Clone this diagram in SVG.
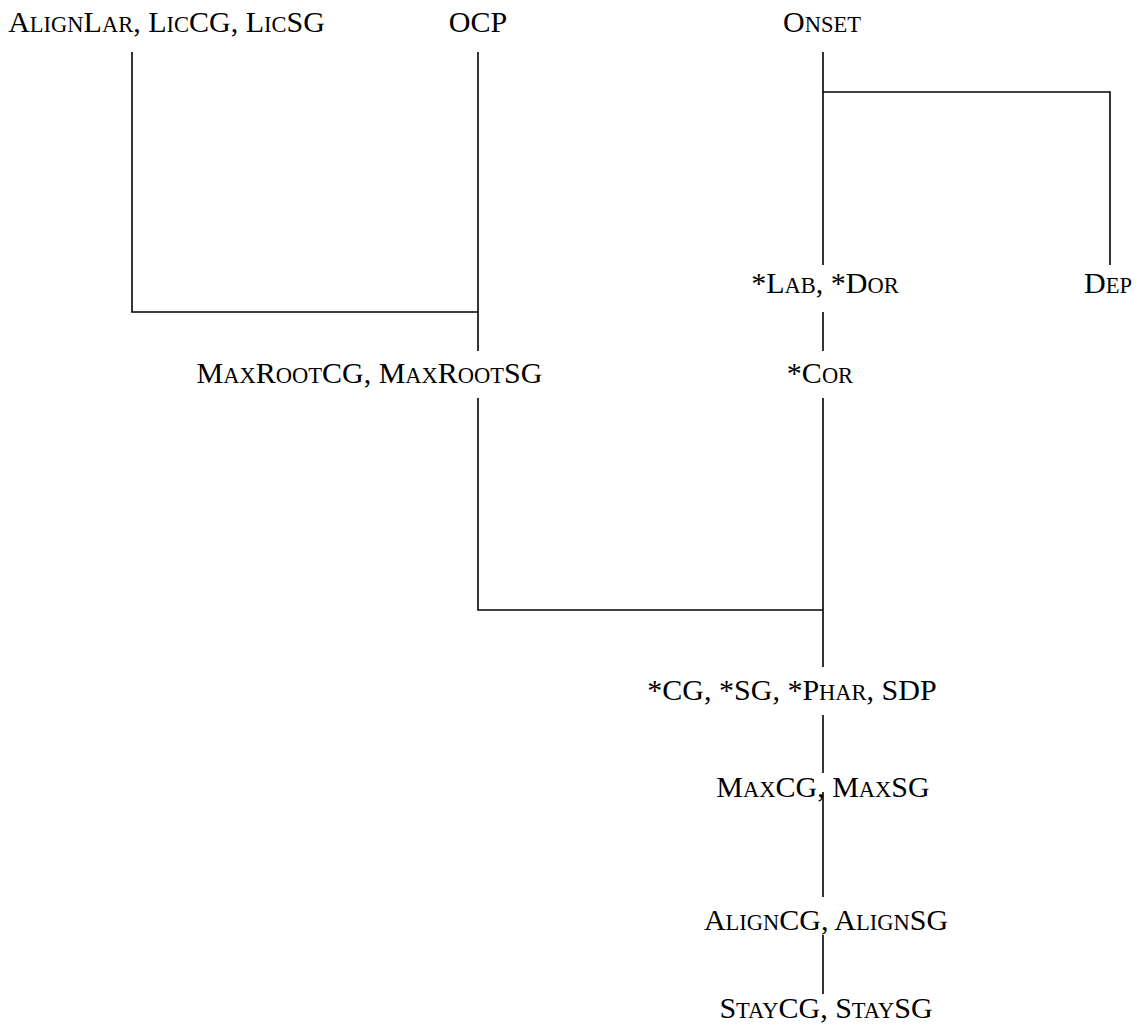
<svg xmlns="http://www.w3.org/2000/svg" width="1140" height="1026" viewBox="0 0 1140 1026">
<style>
text{font-family:"Liberation Serif","Times New Roman",serif;font-size:30px;fill:#000;text-anchor:middle}
.sc{font-size:22.5px}
.c line{stroke:#000;stroke-width:1.6;fill:none}
</style>
<rect width="1140" height="1026" fill="#fff"/>
<g class="c" id="connectors">
<line x1="132" y1="52" x2="132" y2="312"/>
<line x1="131.2" y1="312" x2="478" y2="312"/>
<line x1="478" y1="52" x2="478" y2="351"/>
<line x1="823" y1="52" x2="823" y2="265"/>
<line x1="823" y1="92" x2="1110" y2="92"/>
<line x1="1110" y1="91.2" x2="1110" y2="265"/>
<line x1="823" y1="312" x2="823" y2="351"/>
<line x1="478" y1="398" x2="478" y2="610"/>
<line x1="477.2" y1="610" x2="823" y2="610"/>
<line x1="823" y1="398" x2="823" y2="667"/>
<line x1="823" y1="715" x2="823" y2="773"/>
<line x1="823" y1="792" x2="823" y2="897"/>
<line x1="823" y1="935" x2="823" y2="994"/>
</g>
<g id="n-alignlar"><text x="166.5" y="32">A<tspan class="sc">LIGN</tspan>L<tspan class="sc">AR</tspan>, L<tspan class="sc">IC</tspan>CG, L<tspan class="sc">IC</tspan>SG</text></g>
<g id="n-ocp"><text x="478" y="32">OCP</text></g>
<g id="n-onset"><text x="822" y="32">O<tspan class="sc">NSET</tspan></text></g>
<g id="n-labdor"><text x="825" y="293">*L<tspan class="sc">AB</tspan>, *D<tspan class="sc">OR</tspan></text></g>
<g id="n-dep"><text x="1108" y="293">D<tspan class="sc">EP</tspan></text></g>
<g id="n-maxroot"><text x="369.5" y="383">M<tspan class="sc">AX</tspan>R<tspan class="sc">OOT</tspan>CG, M<tspan class="sc">AX</tspan>R<tspan class="sc">OOT</tspan>SG</text></g>
<g id="n-cor"><text x="820" y="383">*C<tspan class="sc">OR</tspan></text></g>
<g id="n-cg"><text x="792" y="700">*CG, *SG, *P<tspan class="sc">HAR</tspan>, SDP</text></g>
<g id="n-maxcg"><text x="823" y="797">M<tspan class="sc">AX</tspan>CG, M<tspan class="sc">AX</tspan>SG</text></g>
<g id="n-aligncg"><text x="826" y="930">A<tspan class="sc">LIGN</tspan>CG, A<tspan class="sc">LIGN</tspan>SG</text></g>
<g id="n-staycg"><text x="826" y="1018">S<tspan class="sc">TAY</tspan>CG, S<tspan class="sc">TAY</tspan>SG</text></g>
</svg>
